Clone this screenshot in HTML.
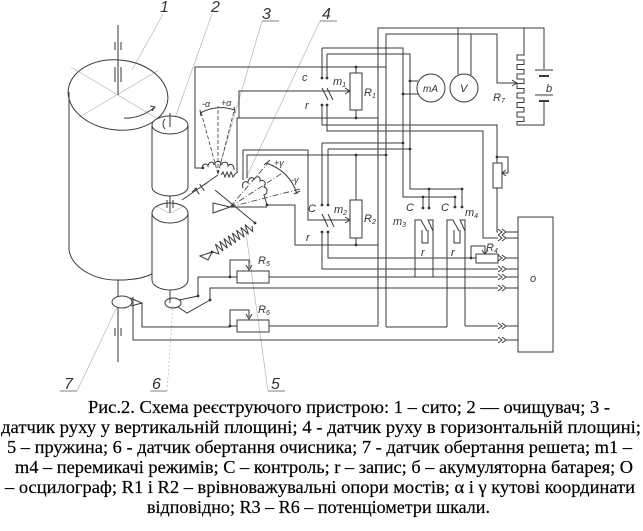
<!DOCTYPE html>
<html><head><meta charset="utf-8">
<style>
html,body{margin:0;padding:0;background:#fff;}
svg{display:block;}
.lab{font-family:"Liberation Sans",sans-serif;font-style:italic;fill:#333;}
text.cap{font-family:"Liberation Serif","Times New Roman",Times,"DejaVu Serif",serif;font-size:18px;fill:#000;stroke:#000;stroke-width:0.2px;}
</style></head><body>
<svg width="643" height="531" viewBox="0 0 643 531" xmlns="http://www.w3.org/2000/svg">
<g fill="none" stroke="#b5b5b5" stroke-width="0.7">
  <path d="M71,67 L188,137 M159,70 L78,118"/>
  <path d="M156,206 L184,221 M184,206 L156,221"/>
  <path d="M163,14 L132,70"/>
  <path d="M212,14 L175,118"/>
  <path d="M262,21 L220,165"/>
  <path d="M320,21 L246,178"/>
  <path d="M268,391 L245,226"/>
  <path d="M167,391 L173,305" stroke-dasharray="2 2"/>
  <path d="M77,391 L118,305"/>
</g>
<g fill="none" stroke="#555" stroke-width="0.8">
  <path d="M262,21 H279 M320,21 H337 M268,391 H285 M150,391 H167 M60,391 H77"/>
</g>
<g class="lab" font-size="16">
  <text x="160" y="12">1</text>
  <text x="211" y="12">2</text>
  <text x="262" y="19">3</text>
  <text x="322" y="19">4</text>
  <text x="271" y="389">5</text>
  <text x="152" y="389">6</text>
  <text x="64" y="389">7</text>
</g>

<g fill="none" stroke="#3a3a3a" stroke-width="1">
  <ellipse cx="118" cy="95" rx="50" ry="35" transform="rotate(6 118 95)"/>
  <path d="M69,92 V250 C72,268 95,281 120,280 C135,280 146,277 152,274"/>
  <path d="M118,25 V95 M115,42 V50 M121,42 V50 M115,67 V82 M121,67 V82"/>
  <path d="M124,118 Q140,119 155,107 M150,106 L155,107 L152,111"/>
  <path d="M118,280 V362 M115,328 V336 M121,328 V336"/>
  <ellipse cx="122" cy="302" rx="10" ry="6" fill="#fff"/>
  <path d="M130,298 L142,303 L131,306"/>
  <path d="M133,297 V340 H498"/>
  <path d="M142,303 V327 H230"/>
  <path d="M152,125 V187 A18,9 0 0 0 188,187 V125" fill="#fff"/>
  <ellipse cx="170" cy="125" rx="18" ry="9" fill="#fff"/>
  <path d="M170,113 V127 M165,119 Q161,124 165,129"/>
  <path d="M152,213 V280 A18,10 0 0 0 188,280 V213" fill="#fff"/>
  <ellipse cx="170" cy="213" rx="18" ry="10"/>
  <path d="M170,196 V213 M167,200 V208 M173,200 V208"/>
  <path d="M170,290 V303"/>
  <ellipse cx="173" cy="303" rx="8" ry="5"/>
  <path d="M179,300 L198,296 M178,307 L187,313 L210,300"/>
  <path d="M198,296 V277 H237"/>
  <path d="M210,300 V288 H498"/>
  <path d="M182,200 L218,175"/>
  <path d="M194.7,187.8 L199.3,194.2 M199.7,184.3 L204.3,190.7 M192,192 L197,188 M202,186 L207,183"/>
  <path d="M218,174 L201,112 M218,174 L218,106 M218,174 L234,111" stroke-dasharray="4 2" stroke-width="0.8"/>
  <path d="M200,113 Q217,104 235,110 M200,110 L201,116 M234,107 L235,113"/>
  <path d="M202,169 C202,163 207,163 208,166 C209,161 214,161 214,165 C216,160 221,160 221,165 C223,161 228,161 228,166 C230,163 234,164 234,170"/>
  <path d="M221,175 l2,-3 l2,5 l2,-5 l2,5 l2,-5 l2,5 l2,-3 l3,-2"/>
  <path d="M215,190 L255,223"/>
  <path d="M213,203 L213,213 L230,207 Z"/>
  <path d="M230,207 L268,163 M230,207 L300,189 M230,207 L284,172" stroke-dasharray="6 2 1 2" stroke-width="0.8"/>
  <path d="M266,163 Q290,171 297,194 M264,165 L270,160 M294,194 L300,191"/>
  <path d="M243,188 C241,182 246,180 248,183 C248,177 254,176 254,180 C256,175 261,176 260,181 C264,179 267,183 264,187 C268,188 268,194 264,195 L267,205"/>
  <path d="M230,207 H267"/>
  <path d="M252,226 L252.7,231.5 L245,224.6 L248.5,234.3 L240.8,227.4 L244.2,237.1 L236.5,230.2 L240,239.9 L232.3,233 L235.8,242.7 L228.1,235.7 L231.6,245.4 L223.9,238.5 L227.4,248.2 L219.6,241.3 L223.1,251 L215.4,244.1 L218.9,253.8 L213,252"/>
  <path d="M212,252 L200,256 L208,260 Z"/>
</g>
<g class="lab" font-size="9">
  <text x="202" y="107">-α</text>
  <text x="221" y="106">+α</text>
  <text x="274" y="166">+γ</text>
  <text x="291" y="183">-γ</text>
</g>

<g fill="none" stroke="#3a3a3a" stroke-width="1">
  <path d="M378,326 V28 H544 V69"/>
  <path d="M386,327 V34 H497 V83 H516"/>
  <path d="M512,80 L517,83 L512,86"/>
  <path d="M524,28 V55 H517 V60 H524 V64.5 H517 V69.5 H524 V74 H517 V79 H524 V83.5 H517 V88.5 H524 V93 H517 V98 H524 V102.5 H517 V107.5 H524 V112 H517 V117 H524 V121.5 H517 V125 H544 V101"/>
  <path d="M535,70 H553 M535,95 H553"/>
  <path d="M539,76 H549 M539,101 H549" stroke-width="2"/>
  <circle cx="464" cy="88" r="14"/>
  <circle cx="431" cy="88" r="14"/>
  <path d="M458,28 V74.5 M471,34 V75"/>
  <path d="M410,81 H418 M403,94 H418"/>
  <path d="M203,168 H195 V67 H386"/>
  <rect x="350" y="73" width="12" height="37"/>
  <path d="M356,67 V73 M356,110 V118"/>
  <path d="M237,172 V118 H378"/>
  <path d="M239,118 V91 H349"/>
  <path d="M345,88 L350,91 L345,94"/>
  <path d="M322,48 V78 M322,105 V125 H497 V163"/>
  <path d="M327,54 V78 M327,105 V131 H483 V238 H498"/>
  <path d="M322,48 H403 V197 H455 M327,54 H410 V189 H462"/>
  <path d="M322,88 L328,100 M327,88 L333,100"/>
  <path d="M243,180 V150 H308 V220 H349"/>
  <path d="M345,217 L350,220 L345,223"/>
  <path d="M247,178 V155 H386"/>
  <rect x="350" y="200" width="12" height="38"/>
  <path d="M356,155 V200 M356,238 V245"/>
  <path d="M267,205 H295 V245 H378"/>
  <path d="M322,143 H403 M328,149 H410"/>
  <path d="M322,143 V205 M322,232 V269 H498"/>
  <path d="M328,149 V205 M328,232 V258 H476"/>
  <path d="M322,214 L328,227 M328,214 L334,227"/>
  <rect x="493" y="163" width="9" height="25"/>
  <path d="M497,188 V232 H498"/>
  <path d="M497,157 H508 V173 H503 M506,170 L502,173 L506,176"/>
  <rect x="476" y="254" width="22" height="9"/>
  <path d="M471,258 V246 H485 V253 M482,250 L485,254 L488,250"/>
  <path d="M423,197 V208 M429,189 V208 M455,197 V207 M462,189 V207"/>
  <path d="M415,277 V220 H421 L427,231 M433,277 V220 H428 L433,231 M422,230 V243 H428 V230"/>
  <path d="M447,327 V220 H453 L459,231 M465,326 V220 H460 L465,231 M454,230 V243 H460 V230"/>
  <path d="M386,327 H447 M465,326 H498"/>
  <path d="M269,277 H498"/>
  <rect x="237" y="271" width="32" height="12"/>
  <path d="M230,277 V260 H249 V268 M246,265 L249,270 L252,265"/>
  <rect x="237" y="320" width="32" height="12"/>
  <path d="M230,326 H237 M269,326 H378"/>
  <path d="M230,326 V310 H249 V317 M246,314 L249,319 L252,314"/>
  <path d="M498,229 L502,232 L498,235 M502,229 L506,232 L502,235 M506,232 H518
           M498,235 L502,238 L498,241 M502,235 L506,238 L502,241 M506,238 H518
           M498,255 L502,258 L498,261 M502,255 L506,258 L502,261 M506,258 H518
           M498,266 L502,269 L498,272 M502,266 L506,269 L502,272 M506,269 H518
           M498,274 L502,277 L498,280 M502,274 L506,277 L502,280 M506,277 H518
           M498,285 L502,288 L498,291 M502,285 L506,288 L502,291 M506,288 H518
           M498,323 L502,326 L498,329 M502,323 L506,326 L502,329 M506,326 H518
           M498,337 L502,340 L498,343 M502,337 L506,340 L502,343 M506,340 H518"/>
  <rect x="518" y="217" width="35" height="135"/>
</g>
<g fill="#333">
  <circle cx="322" cy="78" r="1.4"/><circle cx="327" cy="78" r="1.4"/>
  <circle cx="322" cy="105" r="1.4"/><circle cx="327" cy="105" r="1.4"/>
  <circle cx="356" cy="67" r="1.4"/><circle cx="356" cy="118" r="1.4"/>
  <circle cx="403" cy="94" r="1.4"/><circle cx="410" cy="81" r="1.4"/>
  <circle cx="403" cy="143" r="1.4"/><circle cx="410" cy="149" r="1.4"/>
  <circle cx="386" cy="155" r="1.4"/>
  <circle cx="423" cy="197" r="1.4"/><circle cx="429" cy="189" r="1.4"/>
  <circle cx="455" cy="197" r="1.4"/><circle cx="462" cy="189" r="1.4"/>
  <circle cx="423" cy="208" r="1.4"/><circle cx="429" cy="208" r="1.4"/>
  <circle cx="455" cy="207" r="1.4"/><circle cx="462" cy="207" r="1.4"/>
  <circle cx="322" cy="205" r="1.4"/><circle cx="328" cy="205" r="1.4"/>
  <circle cx="322" cy="232" r="1.4"/><circle cx="328" cy="232" r="1.4"/>
  <circle cx="356" cy="155" r="1.4"/><circle cx="356" cy="245" r="1.4"/>
  <circle cx="497" cy="157" r="1.4"/><circle cx="471" cy="258" r="1.4"/>
  <circle cx="230" cy="277" r="1.4"/><circle cx="230" cy="326" r="1.4"/>
  <circle cx="198" cy="296" r="1.4"/><circle cx="210" cy="300" r="1.4"/>
  <circle cx="255" cy="223" r="1.4"/><circle cx="212" cy="252" r="1.4"/>
  <circle cx="267" cy="205" r="1.4"/><circle cx="203" cy="168" r="1.2"/>
</g>
<g class="lab" font-size="11">
  <text x="302" y="81">c</text>
  <text x="333" y="85">m<tspan font-size="7" dy="2">1</tspan></text>
  <text x="305" y="109">r</text>
  <text x="364" y="96">R<tspan font-size="7" dy="2">1</tspan></text>
  <text x="308" y="212">C</text>
  <text x="334" y="213">m<tspan font-size="7" dy="2">2</tspan></text>
  <text x="306" y="241">r</text>
  <text x="364" y="222">R<tspan font-size="7" dy="2">2</tspan></text>
  <text x="406" y="211">C</text>
  <text x="393" y="225">m<tspan font-size="7" dy="2">3</tspan></text>
  <text x="421" y="256">r</text>
  <text x="441" y="211">C</text>
  <text x="465" y="216">m<tspan font-size="7" dy="2">4</tspan></text>
  <text x="451" y="256">r</text>
  <text x="486" y="251">R<tspan font-size="7" dy="2">4</tspan></text>
  <text x="258" y="264">R<tspan font-size="7" dy="2">5</tspan></text>
  <text x="258" y="313">R<tspan font-size="7" dy="2">6</tspan></text>
  <text x="493" y="101">R<tspan font-size="7" dy="2">7</tspan></text>
  <text x="546" y="92">b</text>
  <text x="530" y="282">o</text>
  <text x="423" y="92" font-size="10">mA</text>
  <text x="460" y="92">V</text>
</g>

<text class="cap" style="font-family:'Liberation Serif','Times New Roman',Times,serif" x="88" y="413" textLength="522" lengthAdjust="spacingAndGlyphs">Рис.2. Схема реєструючого пристрою: 1 – сито; 2 — очищувач; 3 -</text>
<text class="cap" style="font-family:'Liberation Serif','Times New Roman',Times,serif" x="1" y="433" textLength="640" lengthAdjust="spacingAndGlyphs">датчик руху у вертикальній площині; 4 - датчик руху в горизонтальній площині;</text>
<text class="cap" style="font-family:'Liberation Serif','Times New Roman',Times,serif" x="7" y="453" textLength="625" lengthAdjust="spacingAndGlyphs">5 – пружина; 6 - датчик обертання очисника; 7 - датчик обертання решета; m1 –</text>
<text class="cap" style="font-family:'Liberation Serif','Times New Roman',Times,serif" x="15" y="473" textLength="618" lengthAdjust="spacingAndGlyphs">m4 – перемикачі режимів; С – контроль; r – запис; б – акумуляторна батарея; О</text>
<text class="cap" style="font-family:'Liberation Serif','Times New Roman',Times,serif" x="5" y="493" textLength="630" lengthAdjust="spacingAndGlyphs">– осцилограф; R1 і R2 – врівноважувальні опори мостів; α і γ кутові координати</text>
<text class="cap" style="font-family:'Liberation Serif','Times New Roman',Times,serif" x="147" y="513" textLength="343" lengthAdjust="spacingAndGlyphs">відповідно; R3 – R6 – потенціометри шкали.</text>
</svg>
</body></html>
